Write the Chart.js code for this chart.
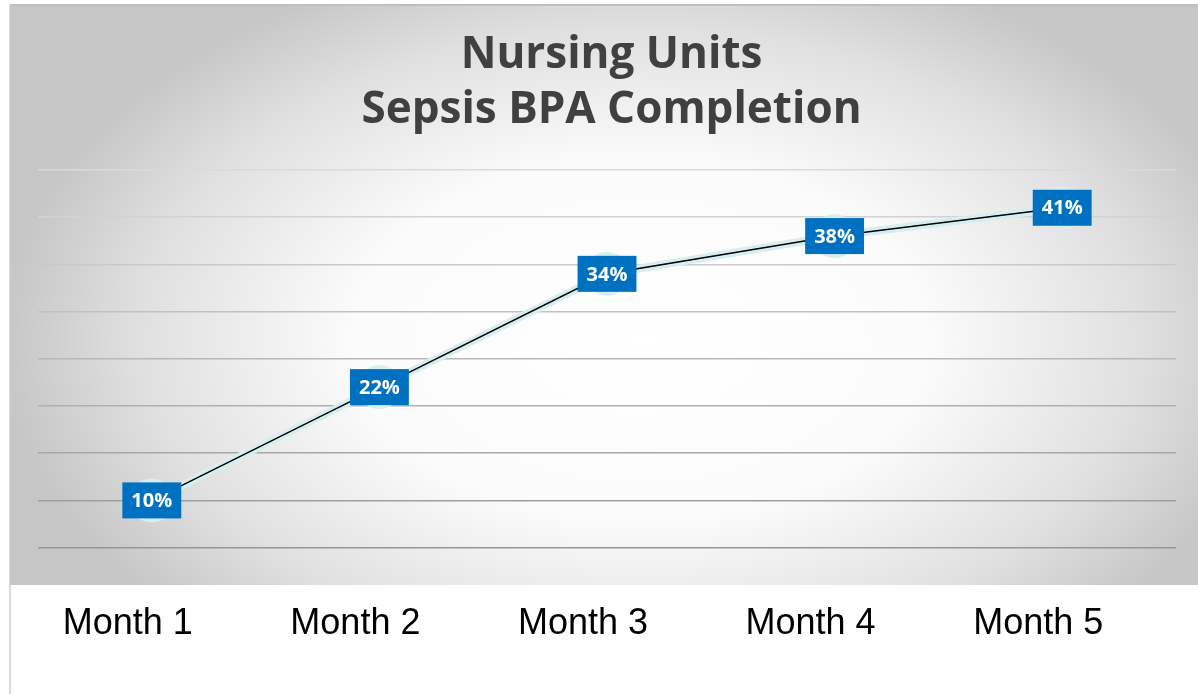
<!DOCTYPE html>
<html>
<head>
<meta charset="utf-8">
<script src="https://cdn.jsdelivr.net/npm/chart.js@4/dist/chart.umd.min.js"></script>
<style>
    html, body { margin: 0; padding: 0; background: #fff; }
    #wrap { width: 1198px; height: 694px; position: relative; }
</style>
</head>
<body>
<div id="wrap"><canvas id="chart"></canvas></div>
<script>
    // data
    const months = ['Month 1', 'Month 2', 'Month 3', 'Month 4', 'Month 5'];
    const completion = [10, 22, 34, 38, 41];
    const titleLines = ['Nursing Units', 'Sepsis BPA Completion'];
    const yMin = 0, yMax = 45, yStep = 5;

    const BLUE = '#0070c0';
    const PALE = '#d7eef0';

    // gray radial panel behind the plot
    const panelBg = {
        id: 'panelBg',
        beforeDraw(chart) {
            const ctx = chart.ctx;
            ctx.save();
            ctx.fillStyle = '#ffffff';
            ctx.fillRect(0, 0, chart.width, chart.height);

            const x0 = 10, y0 = 5, x1 = chart.width, y1 = 585;
            const cx = 640, cy = 340, rx = 640, ry = 400;
            ctx.save();
            ctx.beginPath();
            ctx.rect(x0, y0, x1 - x0, y1 - y0);
            ctx.clip();
            ctx.translate(cx, cy);
            ctx.scale(1, ry / rx);
            const g = ctx.createRadialGradient(0, 0, 0, 0, 0, rx);
            g.addColorStop(0, '#ffffff');
            g.addColorStop(0.45, '#fbfbfb');
            g.addColorStop(0.78, '#e0e0e0');
            g.addColorStop(1, '#c6c6c6');
            ctx.fillStyle = g;
            ctx.fillRect(-cx, -cy * rx / ry, chart.width, chart.height * rx / ry);
            ctx.restore();

            ctx.strokeStyle = '#c0c0c0';
            ctx.lineWidth = 2;
            ctx.beginPath();
            ctx.moveTo(x0, y0);
            ctx.lineTo(x1, y0);
            ctx.stroke();
            ctx.strokeStyle = '#cccccc';
            ctx.lineWidth = 1.5;
            ctx.beginPath();
            ctx.moveTo(x0, y0);
            ctx.lineTo(x0, chart.height);
            ctx.stroke();
            ctx.restore();
        }
    };

    // blue value boxes on top of the points
    const valueBoxes = {
        id: 'valueBoxes',
        afterDatasetsDraw(chart) {
            const ctx = chart.ctx;
            const meta = chart.getDatasetMeta(0);
            ctx.save();
            ctx.font = 'bold 20px "Open Sans", Lato, sans-serif';
            ctx.textAlign = 'center';
            ctx.textBaseline = 'middle';
            meta.data.forEach((pt, i) => {
                const txt = completion[i] + '%';
                const w = ctx.measureText(txt).width + 18;
                const h = 36;
                ctx.fillStyle = BLUE;
                ctx.fillRect(pt.x - w / 2, pt.y - h / 2, w, h);
                ctx.fillStyle = '#ffffff';
                ctx.fillText(txt, pt.x, pt.y + 1);
            });
            ctx.restore();
        }
    };

    function gridColor(c) {
        const v = c.tick ? c.tick.value : 0;
        if (v <= yMin) return 'rgba(0,0,0,0)';
        const t = (v - yStep) / (yMax - yStep);
        const l = Math.round(150 + t * (218 - 150));
        return `rgb(${l},${l},${l})`;
    }

    new Chart(document.getElementById('chart'), {
        type: 'line',
        data: {
            labels: months,
            datasets: [
                {
                    label: 'Completion',
                    data: completion,
                    borderColor: PALE,
                    borderWidth: 8,
                    pointRadius: 22,
                    pointBackgroundColor: PALE,
                    pointBorderWidth: 0,
                    tension: 0,
                    order: 1
                },
                {
                    label: 'Connector',
                    data: completion,
                    borderColor: '#000000',
                    borderWidth: 1.5,
                    pointRadius: 0,
                    tension: 0,
                    order: 0
                }
            ]
        },
        options: {
            responsive: true,
            maintainAspectRatio: false,
            animation: false,
            layout: { padding: { left: 38, right: 13, bottom: 48 } },
            plugins: {
                legend: { display: false },
                tooltip: { enabled: false },
                title: {
                    display: true,
                    text: titleLines,
                    color: '#404040',
                    font: { family: '"Open Sans", Lato, sans-serif', size: 44, weight: 'bold', lineHeight: 1.25 },
                    padding: { top: 28, bottom: 32 }
                }
            },
            scales: {
                x: {
                    offset: true,
                    grid: { display: false },
                    border: { display: false },
                    ticks: {
                        color: '#000000',
                        padding: 0,
                        labelOffset: -24,
                        font: { family: '"Liberation Sans", Arial, sans-serif', size: 36 }
                    }
                },
                y: {
                    min: yMin,
                    max: yMax,
                    ticks: { display: false, stepSize: yStep },
                    border: { display: false },
                    grid: { color: gridColor, lineWidth: 1.5, drawTicks: false }
                }
            }
        },
        plugins: [panelBg, valueBoxes]
    });
</script>
</body>
</html>
